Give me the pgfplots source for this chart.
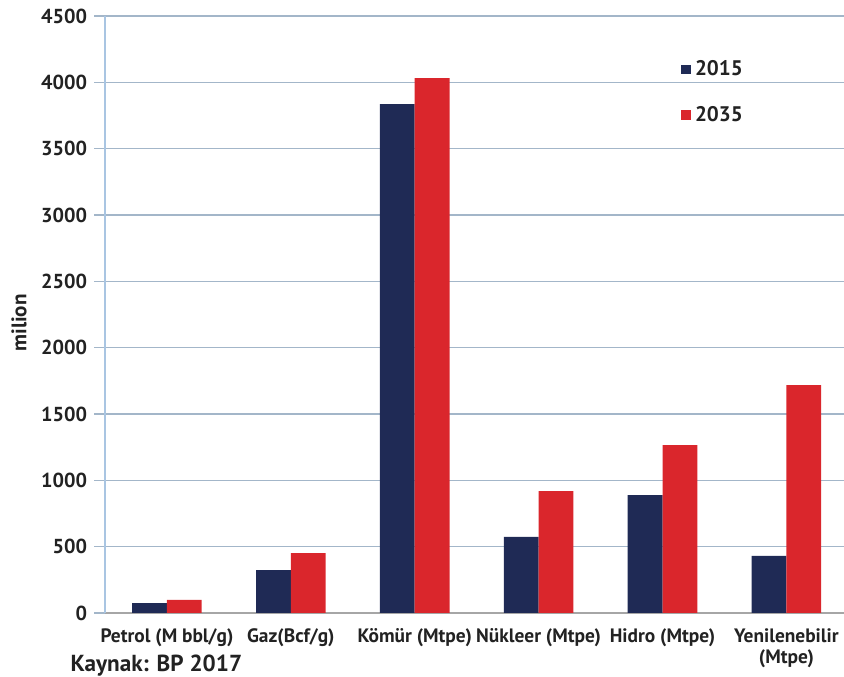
\documentclass[border=0pt]{standalone}
\usepackage{fontspec}
\setmainfont{PT Sans}
\usepackage{pgfplots}
\pgfplotsset{compat=1.18}
\definecolor{navy}{HTML}{1F2A55}
\definecolor{bred}{HTML}{DA262C}
\definecolor{gridc}{HTML}{A3B6C9}
\definecolor{axc}{HTML}{A9C5E2}
\definecolor{txt}{HTML}{222222}
\begin{document}
\begin{tikzpicture}
\begin{axis}[
  at={(1.75cm,1.05cm)}, anchor=south west,
  scale only axis, width=12.39cm, height=9.95cm,
  ybar=0pt, bar width=0.58cm,
  xmin=-0.5, xmax=5.5, ymin=0, ymax=4500,
  enlarge x limits=false,
  xtick={0,1,2,3,4,5},
  xticklabels={Petrol (M bbl/g),Gaz(Bcf/g),Kömür (Mtpe),Nükleer (Mtpe),Hidro (Mtpe),Yenilenebilir\\(Mtpe)},
  xticklabel style={font=\bfseries\fontsize{9.2}{9.8}\selectfont, text=txt, align=center, yshift=1pt},
  x tick style={draw=none},
  extra x ticks={0.5,1.5,2.5,3.5,4.5},
  extra x tick labels={},
  extra x tick style={tick style={draw=gray!70, line width=0.6pt}, major tick length=5pt, tick align=outside, grid=none},
  ytick={0,500,...,4500},
  yticklabel style={font=\bfseries\fontsize{9.6}{11}\selectfont, text=txt},
  /pgf/number format/assume math mode=true,
  /pgf/number format/1000 sep={},
  ymajorgrids, grid style={gridc, line width=0.6pt},
  y tick style={gridc, line width=0.6pt}, tick align=outside, major tick length=5pt,
  axis x line*=bottom, axis y line*=left,
  x axis line style={draw=gray!70, line width=0.6pt, -},
  y axis line style={draw=axc, line width=0.8pt, -},
  ylabel={milion}, ylabel style={font=\bfseries\fontsize{10}{12}\selectfont, text=txt, at={(ticklabel cs:0.5)}, xshift=-4pt},
  legend style={at={(0.766,0.94)}, anchor=north west, draw=none, fill=none,
    font=\bfseries\fontsize{10}{12}\selectfont, text=txt, row sep=9pt},
  legend image code/.code={\fill (0cm,-0.075cm) rectangle (0.16cm,0.085cm);},
]
\addplot[fill=navy, draw=none] coordinates {(0,75) (1,324) (2,3836) (3,573) (4,889) (5,430)};
\addplot[fill=bred, draw=none] coordinates {(0,98) (1,452) (2,4031) (3,919) (4,1266) (5,1718)};
\legend{2015,2035}
\end{axis}
\node[anchor=base west, font=\bfseries\fontsize{11}{13}\selectfont, text=txt, inner sep=0pt] at (1.17cm,0.08cm) {Kaynak: BP 2017};
\pgfresetboundingbox
\useasboundingbox (0,0) rectangle (14.0667cm,11.2667cm);
\end{tikzpicture}
\end{document}
